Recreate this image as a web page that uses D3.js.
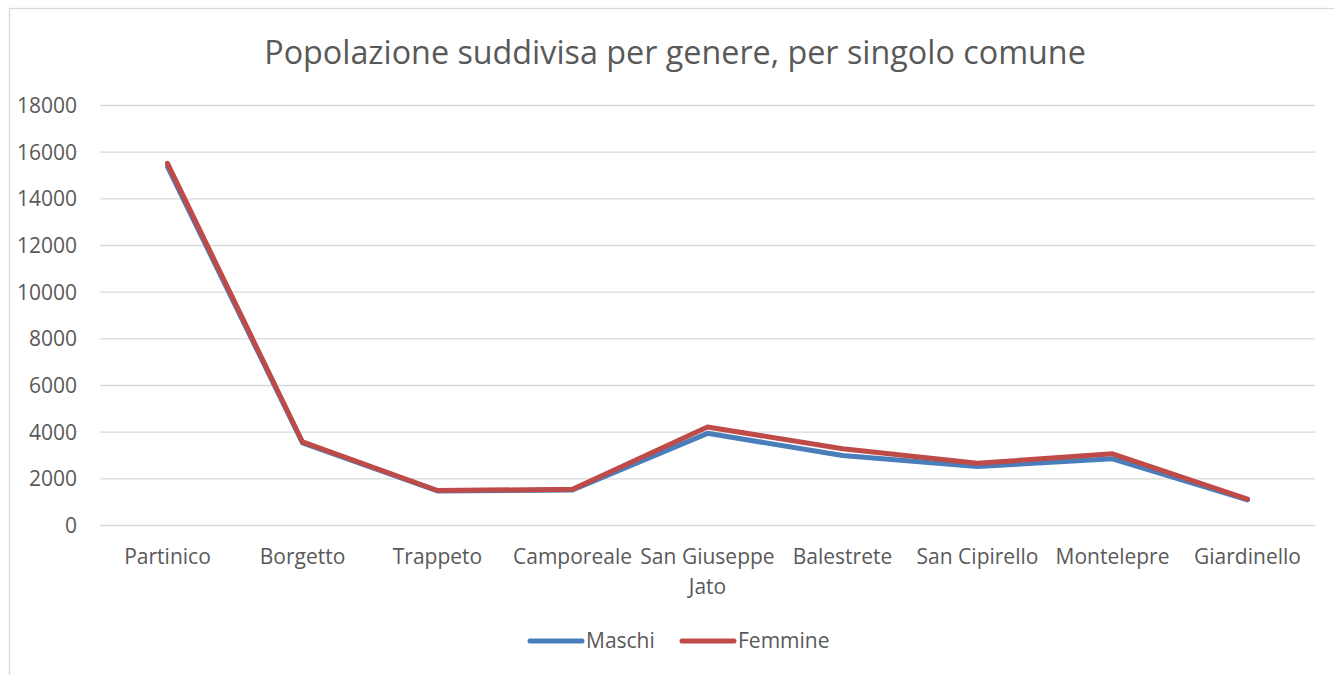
<!doctype html>
<html lang="it">
<head>
    <meta charset="UTF-8">
    <title>Popolazione per genere</title>
    <style>
        body { margin: 0; background: #fff; }
        text { font-family: "Open Sans", "Noto Sans", sans-serif; fill: #595959; }
        .grid line { stroke: #d9d9d9; stroke-width: 1.3px; }
        .series { fill: none; stroke-width: 5px; stroke-linejoin: round; stroke-linecap: round; }
    </style>
</head>
<body>

<svg width="1334" height="675"></svg>

<script src="https://d3js.org/d3.v7.min.js"></script>
<script>
  const comuni = ['Partinico', 'Borgetto', 'Trappeto', 'Camporeale', 'San Giuseppe Jato',
    'Balestrete', 'San Cipirello', 'Montelepre', 'Giardinello']
  const maschi = [15380, 3540, 1480, 1520, 3950, 3000, 2530, 2860, 1100]
  const femmine = [15520, 3580, 1500, 1550, 4220, 3290, 2670, 3070, 1130]
  const yTicks = [0, 2000, 4000, 6000, 8000, 10000, 12000, 14000, 16000, 18000]

  const series = [
    {name: 'Maschi', values: maschi, color: '#4a7ebb'},
    {name: 'Femmine', values: femmine, color: '#be4b48'}
  ]

  const svg = d3.select('svg')

  // cornice del grafico
  svg.append('rect')
    .attr('x', 9.5).attr('y', 8.5)
    .attr('width', 1340).attr('height', 700)
    .attr('fill', 'none').attr('stroke', '#d9d9d9').attr('stroke-width', 1.3)

  const x = d3.scalePoint()
    .domain(comuni)
    .range([100 + 67.5, 1315 - 67.5])

  const y = d3.scaleLinear()
    .domain([0, 18000])
    .range([525.5, 105.5])

  svg.append('text')
    .attr('x', 675).attr('y', 64)
    .attr('text-anchor', 'middle')
    .style('font-size', '32.3px')
    .text('Popolazione suddivisa per genere, per singolo comune')

  // griglia
  svg.append('g')
    .attr('class', 'grid')
    .selectAll('line')
    .data(yTicks)
    .join('line')
    .attr('x1', 100).attr('x2', 1315)
    .attr('y1', d => y(d)).attr('y2', d => y(d))

  // asse y
  svg.append('g')
    .selectAll('text')
    .data(yTicks)
    .join('text')
    .attr('x', 77).attr('y', d => y(d))
    .attr('dy', '0.35em')
    .attr('text-anchor', 'end')
    .style('font-size', '21px')
    .text(d => d)

  // asse x (con a capo per nomi lunghi)
  const labels = svg.append('g')
    .selectAll('text')
    .data(comuni)
    .join('text')
    .attr('x', d => x(d)).attr('y', 564)
    .attr('text-anchor', 'middle')
    .style('font-size', '21px')

  labels.each(function (d) {
    const parts = d === 'San Giuseppe Jato' ? ['San Giuseppe', 'Jato'] : [d]
    d3.select(this).selectAll('tspan')
      .data(parts)
      .join('tspan')
      .attr('x', x(d))
      .attr('dy', (p, i) => i === 0 ? 0 : 30)
      .text(p => p)
  })

  const line = d3.line()
    .x((v, i) => x(comuni[i]))
    .y(v => y(v))

  svg.append('g')
    .selectAll('path')
    .data(series)
    .join('path')
    .attr('class', 'series')
    .attr('stroke', d => d.color)
    .attr('d', d => line(d.values))

  // legenda
  const legendX = [528, 680]
  const legend = svg.append('g')
    .selectAll('g')
    .data(series)
    .join('g')
    .attr('transform', (d, i) => `translate(${legendX[i]}, 641)`)

  legend.append('line')
    .attr('x1', 2).attr('x2', 54)
    .attr('stroke', d => d.color)
    .attr('stroke-width', 5)
    .attr('stroke-linecap', 'round')

  legend.append('text')
    .attr('x', 58).attr('dy', '0.35em')
    .style('font-size', '21px')
    .text(d => d.name)
</script>
</body>
</html>
